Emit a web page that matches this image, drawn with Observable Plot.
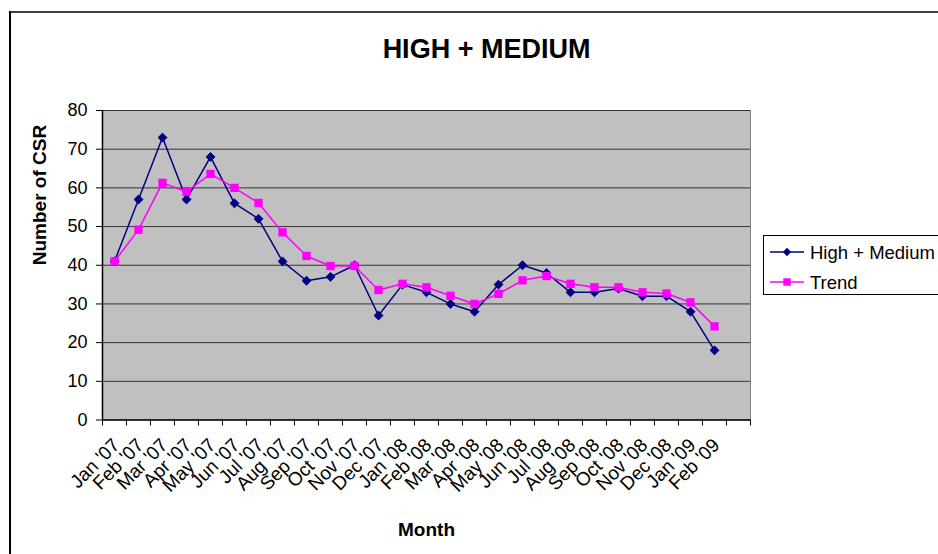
<!DOCTYPE html>
<html>
<head>
<meta charset="utf-8">
<script src="https://cdn.jsdelivr.net/npm/d3@7"></script>
<script src="https://cdn.jsdelivr.net/npm/@observablehq/plot@0.6"></script>
<style>
  html, body { margin: 0; padding: 0; background: #fff; overflow: hidden; }
  #chart { position: relative; width: 938px; height: 554px; font-family: "Liberation Sans", Arial, sans-serif; }
  #chart svg { display: block; }
  .edge-top { position: absolute; left: 9px; top: 11px; width: 929px; height: 2px; background: #404040; }
  .edge-left { position: absolute; left: 9px; top: 11px; width: 1.5px; height: 543px; background: #000; }
  #legend { position: absolute; left: 763px; top: 235px; }
</style>
</head>
<body>
<div id="chart">
  <div class="edge-top"></div>
  <div class="edge-left"></div>
</div>
<script>
// Monthly counts of high + medium CSRs and their trend
const months = ["Jan '07", "Feb '07", "Mar '07", "Apr '07", "May '07", "Jun '07", "Jul '07", "Aug '07",
  "Sep '07", "Oct '07", "Nov '07", "Dec '07", "Jan '08", "Feb '08", "Mar '08", "Apr '08", "May '08",
  "Jun '08", "Jul '08", "Aug '08", "Sep '08", "Oct '08", "Nov '08", "Dec '08", "Jan '09", "Feb '09"];
const highMedium = [41, 57, 73, 57, 68, 56, 52, 41, 36, 37, 40, 27, 35, 33, 30, 28, 35, 40, 38, 33, 33, 34, 32, 32, 28, 18];
const trend = [41, 49.2, 61.3, 59, 63.6, 60, 56.1, 48.5, 42.4, 39.8, 39.8, 33.6, 35.2, 34.3, 32.1, 30, 32.6, 36.1, 37.2, 35.2, 34.3, 34.3, 33, 32.7, 30.4, 24.2];
const yTicks = [0, 10, 20, 30, 40, 50, 60, 70, 80];
const seriesNames = ["High + Medium", "Trend"];
const slotCount = 27; // category slots on the axis, the last one is empty

const rows = months.map((month, i) => ({ month, pos: i + 0.5, highMedium: highMedium[i], trend: trend[i] }));

const navy = "#000080";
const magenta = "#ff00ff";

const chart = Plot.plot({
  width: 938,
  height: 554,
  marginLeft: 102,
  marginRight: 188,
  marginTop: 110,
  marginBottom: 134.5,
  style: { fontFamily: "'Liberation Sans', Arial, sans-serif", fontSize: "17px", color: "#000", background: "transparent", overflow: "visible" },
  x: { domain: [0, slotCount], axis: null },
  y: { domain: [0, 80], axis: null },
  marks: [
    Plot.frame({ fill: "#c0c0c0", stroke: "#808080" }),
    Plot.ruleY(yTicks.filter(v => v > 0), { stroke: "#333", strokeWidth: 1 }),
    Plot.axisY(yTicks, { tickSize: 6, tickPadding: 9, fontSize: 18, label: null, stroke: "#000" }),
    Plot.axisX(d3.range(slotCount + 1), { tickSize: 6, tickFormat: () => "", label: null, stroke: "#000" }),
    Plot.axisX(rows.map(d => d.pos), {
      tickSize: 0, tickPadding: 22, tickRotate: -45, fontSize: 19, label: null, dx: 2,
      tickFormat: d => months[Math.round(d - 0.5)]
    }),
    Plot.ruleX([0], { stroke: "#000", strokeWidth: 1.5 }),
    Plot.ruleY([0], { stroke: "#000", strokeWidth: 1.5 }),
    Plot.line(rows, { x: "pos", y: "highMedium", stroke: navy, strokeWidth: 1.5 }),
    Plot.dot(rows, { x: "pos", y: "highMedium", symbol: "diamond2", r: 4, fill: navy, stroke: navy, strokeWidth: 1 }),
    Plot.line(rows, { x: "pos", y: "trend", stroke: magenta, strokeWidth: 1.5 }),
    Plot.dot(rows, { x: "pos", y: "trend", symbol: "square", r: 4.7, fill: magenta }),
    Plot.text(["HIGH + MEDIUM"], { frameAnchor: "top", dx: 60, dy: -61, lineAnchor: "middle", fontSize: 27, fontWeight: "bold" }),
    Plot.text(["Number of CSR"], { frameAnchor: "left", dx: -63, rotate: -90, lineAnchor: "middle", fontSize: 19, fontWeight: "bold" }),
    Plot.text(["Month"], { frameAnchor: "bottom", dy: 110, lineAnchor: "middle", fontSize: 19, fontWeight: "bold" })
  ]
});
document.getElementById("chart").appendChild(chart);

// Legend box to the right of the plot
const legend = d3.select("#chart").append("svg")
  .attr("id", "legend").attr("width", 180).attr("height", 62);
legend.append("rect").attr("x", 0.5).attr("y", 0.5).attr("width", 200).attr("height", 59)
  .attr("fill", "#fff").attr("stroke", "#000");
const legendItems = [
  { name: seriesNames[0], color: navy, symbol: d3.symbolDiamond2, y: 17, size: 45 },
  { name: seriesNames[1], color: magenta, symbol: d3.symbolSquare, y: 47, size: 55 }
];
legendItems.forEach(item => {
  legend.append("line").attr("x1", 7).attr("x2", 41).attr("y1", item.y).attr("y2", item.y)
    .attr("stroke", item.color).attr("stroke-width", 1.5);
  legend.append("path").attr("d", d3.symbol(item.symbol, item.size)())
    .attr("transform", `translate(24,${item.y})`).attr("fill", item.color);
  legend.append("text").attr("x", 47).attr("y", item.y + 7)
    .attr("font-family", "'Liberation Sans', Arial, sans-serif").attr("font-size", 18.5)
    .text(item.name);
});
</script>
</body>
</html>
